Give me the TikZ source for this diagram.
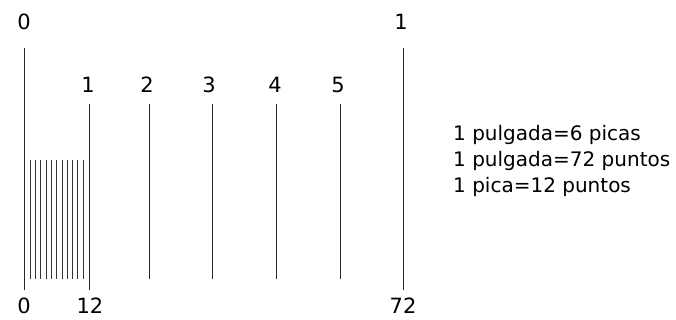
\documentclass[tikz,border=0pt]{standalone}
\usepackage{fontspec}
\setmainfont{DejaVu Sans}
\begin{document}
\begin{tikzpicture}[x=1pt,y=-1pt,
  lbl/.style={font=\fontsize{21}{24}\selectfont, inner sep=0pt},
  note/.style={font=\fontsize{20}{26}\selectfont, inner sep=0pt, anchor=west},
  rule/.style={line width=1pt, black!85},
  fine/.style={line width=0.8pt, black!80}]
\useasboundingbox (0,0) rectangle (676,320);
% main lines
\draw[rule] (24,48) coordinate (a0) -- (24,290) coordinate (b0);
\draw[rule] (403,48) coordinate (a72) -- (403,290) coordinate (b72);
\draw[rule] (89,104) coordinate (a1) -- (89,290) coordinate (b1);
\foreach \i/\x in {2/149,3/212,4/276,5/340}{
  \draw[rule] (\x,104) coordinate (a\i) -- (\x,279) coordinate (b\i);
}
% fine lines
\foreach \k in {0,...,10}{
  \draw[fine] ({30.3+\k*5.27},160.5) -- ({30.3+\k*5.27},279.3);
}
% labels
\node[lbl] (t0) at (24,22) {0};
\node[lbl] (t72) at (401,22) {1};
\node[lbl] (n1) at (88,85) {1};
\node[lbl] (n2) at (147,85) {2};
\node[lbl] (n3) at (209,85) {3};
\node[lbl] (n4) at (275,85) {4};
\node[lbl] (n5) at (338,85) {5};
\node[lbl] (p0) at (24,306) {0};
\node[lbl] (p12) at (90,306) {12};
\node[lbl] (p72) at (403,306) {72};
\node[note] (r1) at (453,135) {1 pulgada=6 picas};
\node[note] (r2) at (453,161) {1 pulgada=72 puntos};
\node[note] (r3) at (453,187) {1 pica=12 puntos};
\end{tikzpicture}
\end{document}
